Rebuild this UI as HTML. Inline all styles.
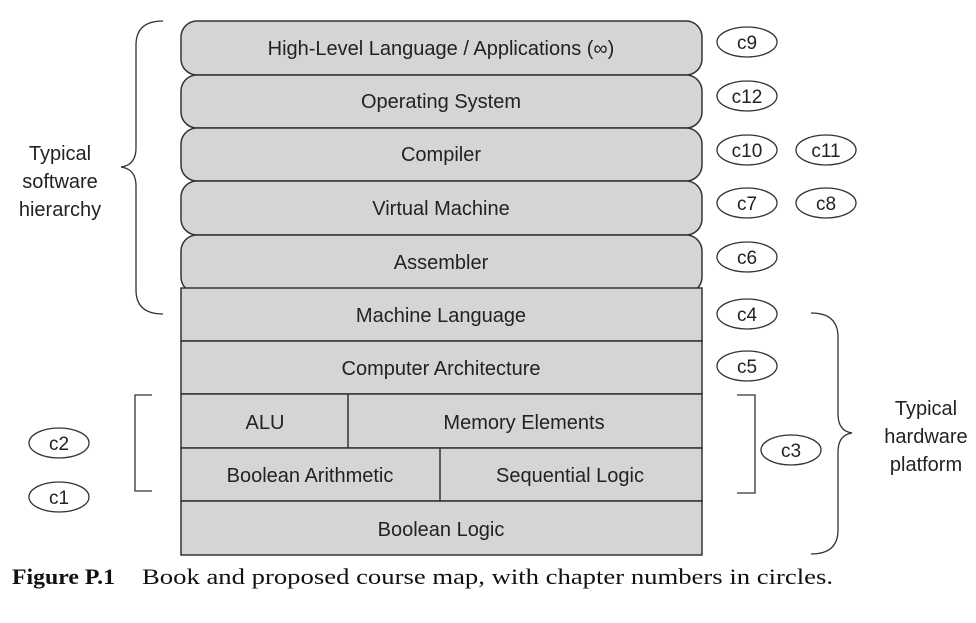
<!DOCTYPE html>
<html><head><meta charset="utf-8"><style>
html,body{margin:0;padding:0;background:#fff;width:976px;height:623px;overflow:hidden}
svg{display:block}
.t{font-family:"Liberation Sans",sans-serif;font-size:20px;fill:#222}
.c{font-family:"Liberation Serif",serif;font-size:22px;fill:#111}
</style></head><body>
<svg width="976" height="623" viewBox="0 0 976 623" xmlns="http://www.w3.org/2000/svg">
<g fill="#d4d5d7" stroke="#333" stroke-width="1.5">
<rect x="181" y="21" width="521" height="54" rx="16"/>
<rect x="181" y="75" width="521" height="53" rx="16"/>
<rect x="181" y="128" width="521" height="53" rx="16"/>
<rect x="181" y="181" width="521" height="54" rx="16"/>
<rect x="181" y="235" width="521" height="58" rx="16"/>
<rect x="181" y="288" width="521" height="53"/>
<rect x="181" y="341" width="521" height="53"/>
<rect x="181" y="394" width="521" height="54"/>
<rect x="181" y="448" width="521" height="53"/>
<rect x="181" y="501" width="521" height="54"/>
<line x1="348" y1="394" x2="348" y2="448"/>
<line x1="440" y1="448" x2="440" y2="501"/>
</g>
<g class="t" text-anchor="middle">
<text x="441" y="55">High-Level Language / Applications (∞)</text>
<text x="441" y="108">Operating System</text>
<text x="441" y="161">Compiler</text>
<text x="441" y="215">Virtual Machine</text>
<text x="441" y="269">Assembler</text>
<text x="441" y="322">Machine Language</text>
<text x="441" y="375">Computer Architecture</text>
<text x="265" y="429">ALU</text>
<text x="524" y="429">Memory Elements</text>
<text x="310" y="482">Boolean Arithmetic</text>
<text x="570" y="482">Sequential Logic</text>
<text x="441" y="536">Boolean Logic</text>
<text x="60" y="160">Typical</text>
<text x="60" y="188">software</text>
<text x="60" y="216">hierarchy</text>
<text x="926" y="415">Typical</text>
<text x="926" y="443">hardware</text>
<text x="926" y="471">platform</text>
</g>
<g fill="none" stroke="#333" stroke-width="1.3">
<ellipse cx="747" cy="42" rx="30" ry="15"/>
<ellipse cx="747" cy="96" rx="30" ry="15"/>
<ellipse cx="747" cy="150" rx="30" ry="15"/>
<ellipse cx="826" cy="150" rx="30" ry="15"/>
<ellipse cx="747" cy="203" rx="30" ry="15"/>
<ellipse cx="826" cy="203" rx="30" ry="15"/>
<ellipse cx="747" cy="257" rx="30" ry="15"/>
<ellipse cx="747" cy="314" rx="30" ry="15"/>
<ellipse cx="747" cy="366" rx="30" ry="15"/>
<ellipse cx="791" cy="450" rx="30" ry="15"/>
<ellipse cx="59" cy="443" rx="30" ry="15"/>
<ellipse cx="59" cy="497" rx="30" ry="15"/>
<path d="M163 21 Q136 21 136 45 L136 148 Q136 165 121 167 Q136 169 136 186 L136 290 Q136 314 163 314"/>
<path d="M811 313 Q838 313 838 337 L838 414 Q838 431 852 433 Q838 435 838 452 L838 530 Q838 554 811 554"/>
<path d="M152 395 L135 395 L135 491 L152 491"/>
<path d="M737 395 L755 395 L755 493 L737 493"/>
</g>
<g class="t" text-anchor="middle" style="font-size:19px">
<text x="747" y="49">c9</text>
<text x="747" y="103">c12</text>
<text x="747" y="157">c10</text>
<text x="826" y="157">c11</text>
<text x="747" y="210">c7</text>
<text x="826" y="210">c8</text>
<text x="747" y="264">c6</text>
<text x="747" y="321">c4</text>
<text x="747" y="373">c5</text>
<text x="791" y="457">c3</text>
<text x="59" y="450">c2</text>
<text x="59" y="504">c1</text>
</g>
<text class="c" x="12" y="584" font-weight="bold" textLength="103" lengthAdjust="spacingAndGlyphs">Figure P.1</text>
<text class="c" x="142" y="584" textLength="691" lengthAdjust="spacingAndGlyphs">Book and proposed course map, with chapter numbers in circles.</text>
</svg>
</body></html>
